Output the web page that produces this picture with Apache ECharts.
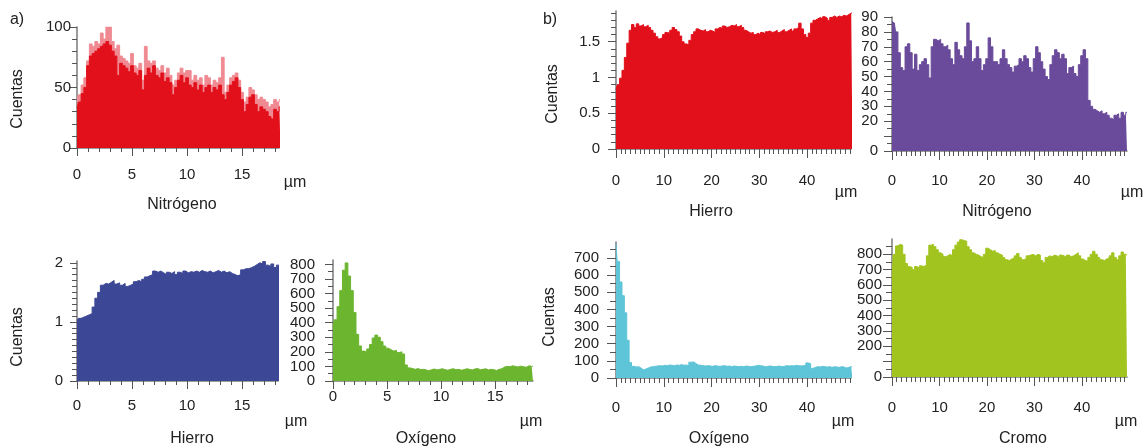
<!DOCTYPE html>
<html><head><meta charset="utf-8">
<script src="https://cdn.jsdelivr.net/npm/echarts@6/dist/echarts.min.js"></script>
<style>html,body{margin:0;padding:0;background:#fff}#c{width:1146px;height:448px}</style>
</head><body><div id="c"></div>
<script>
// ---- sampling steps (µm) ----
const stepA = 0.25;
const stepB = 0.5;

// ---- a) panels ----
const nitrogenoA_base = [33,38,45,50,68,76,78,80,82,84,86,88,85,80,76,60,70,68,66,63,68,62,60,64,48,60,66,62,68,60,58,62,55,58,54,44,50,56,60,54,58,52,50,54,48,52,46,50,52,46,50,48,52,44,40,46,52,55,58,50,40,30,36,42,44,36,30,34,32,30,26,24,32,30,34];
const nitrogenoA_peak = [40,44,52,58,72,86,84,88,86,95,90,100,100,88,82,85,76,74,72,70,78,68,66,70,56,84,72,70,72,66,64,68,62,66,60,52,56,62,66,62,64,64,56,60,56,58,52,60,58,52,56,54,58,75,46,52,58,60,62,56,46,38,42,50,48,44,40,42,40,38,34,36,40,38,40];
const hierroA = [1.02,1.06,1.08,1.10,1.12,1.14,1.25,1.40,1.50,1.62,1.65,1.64,1.67,1.70,1.64,1.66,1.62,1.65,1.60,1.62,1.64,1.68,1.70,1.68,1.72,1.76,1.78,1.80,1.86,1.84,1.86,1.83,1.80,1.84,1.82,1.85,1.80,1.84,1.82,1.86,1.83,1.85,1.84,1.86,1.84,1.87,1.85,1.84,1.86,1.83,1.85,1.87,1.84,1.86,1.83,1.85,1.82,1.80,1.78,1.80,1.88,1.90,1.90,1.92,1.94,1.97,2.00,1.98,2.02,1.96,1.94,1.98,1.92,1.96,1.94];
const oxigenoA = [380,420,510,620,760,810,720,620,470,320,240,205,200,220,250,295,315,300,270,240,225,215,205,210,195,200,185,110,90,85,80,85,78,80,76,70,78,82,76,80,84,78,74,80,84,78,80,74,78,84,80,76,82,86,78,80,84,76,80,78,72,80,84,96,100,98,104,100,96,102,98,94,104,100,102];

// ---- b) panels ----
const hierroB = [0.83,0.90,0.99,1.10,1.28,1.48,1.66,1.74,1.70,1.75,1.72,1.74,1.71,1.73,1.70,1.66,1.62,1.57,1.54,1.56,1.60,1.63,1.62,1.66,1.70,1.67,1.64,1.58,1.50,1.47,1.46,1.52,1.60,1.64,1.68,1.66,1.65,1.67,1.64,1.66,1.65,1.63,1.68,1.70,1.69,1.72,1.70,1.71,1.73,1.72,1.74,1.71,1.73,1.70,1.66,1.64,1.62,1.63,1.60,1.62,1.60,1.63,1.61,1.64,1.65,1.63,1.64,1.66,1.63,1.65,1.67,1.64,1.66,1.68,1.65,1.68,1.70,1.76,1.68,1.60,1.56,1.62,1.76,1.80,1.82,1.84,1.82,1.85,1.83,1.80,1.84,1.86,1.84,1.86,1.85,1.87,1.86,1.88,1.90,1.91];
const nitrogenoB = [87,86,80,66,56,54,70,72,66,55,65,54,58,60,62,58,49,70,75,74,75,72,70,71,68,62,58,73,68,64,62,70,86,74,60,62,70,62,54,58,62,76,70,60,60,58,62,68,62,58,56,53,57,58,62,60,64,62,56,53,62,70,66,60,55,50,48,58,64,68,66,62,65,62,52,56,57,52,50,58,64,68,62,34,30,28,27,26,27,25,26,24,22,21,24,25,22,26,24,26];
const oxigenoB = [780,680,560,480,380,220,90,68,64,66,58,48,52,58,64,66,68,70,72,70,74,72,76,74,72,76,74,78,74,76,72,92,94,84,76,74,72,70,72,70,68,72,70,68,70,72,68,70,66,70,68,66,68,66,70,68,66,68,70,74,72,70,66,68,70,68,66,68,70,66,68,72,70,72,70,74,72,70,72,74,88,84,56,62,66,64,68,66,64,66,62,66,64,62,66,64,58,62,66,64];
const cromoB = [630,800,855,865,860,800,740,720,715,700,720,710,725,720,730,790,860,865,850,830,810,800,785,790,800,790,830,860,880,895,890,885,850,830,810,800,795,785,780,800,840,830,820,825,810,800,795,780,765,760,770,775,790,805,780,765,770,790,795,800,790,800,795,760,745,780,790,785,795,790,780,795,790,780,795,785,790,800,810,790,770,760,755,780,800,820,800,780,765,760,770,775,790,810,780,765,790,815,800,795];

// ---- tick labels ----
const xLabelsA = [0,5,10,15];
const xLabelsB = [0,10,20,30,40];
const yLabels1 = [0,50,100];
const yLabels2 = [0,1,2];
const yLabels3 = [0,100,200,300,400,500,600,700,800];
const yLabels4 = [0,0.5,1,1.5];
const yLabels5 = [0,20,30,40,50,60,70,80,90];
const yLabels6 = [0,100,200,300,400,500,600,700];
const yLabels7 = [0,200,300,400,500,600,700,800];

// tick sets: [end, step, length]
const panels = [
  {grid:{left:77,top:27,width:202,height:121}, xMax:18.36, yMax:100, xLab:xLabelsA, yLab:yLabels1,
   xT:[[15,5,8],[18,1,4]], yT:[[100,50,7],[100,10,5]], xm:19.5, ym:6,
   series:[{d:nitrogenoA_peak,s:stepA,c:'#f08a92'},{d:nitrogenoA_base,s:stepA,c:'#e2101b'}]},
  {grid:{left:77,top:261,width:201,height:120}, xMax:18.27, yMax:2.03, xLab:xLabelsA, yLab:yLabels2,
   xT:[[15,5,8],[18,1,4]], yT:[[2,1,7],[2,0.1,5]], xm:17.5, ym:14,
   series:[{d:hierroA,s:stepA,c:'#3c4795'}]},
  {grid:{left:333,top:260,width:200,height:121}, xMax:18.5, yMax:830, xLab:xLabelsA, yLab:yLabels3,
   xT:[[15,5,8],[18,1,4]], yT:[[800,100,8],[800,50,5]], xm:8.5, ym:18,
   series:[{d:oxigenoA,s:stepA,c:'#6bb52f'}]},
  {grid:{left:616,top:11,width:235,height:138}, xMax:49.2, yMax:1.93, xLab:xLabelsB, yLab:yLabels4,
   xT:[[40,10,9],[49,1,5]], yT:[[1.5,0.5,8],[1.9,0.1,5]], xm:24.5, ym:16,
   series:[{d:hierroB,s:stepB,c:'#e2101b'}]},
  {grid:{left:892,top:17,width:235,height:134}, xMax:49.5, yMax:90, xLab:xLabelsB, yLab:yLabels5,
   xT:[[40,10,9],[49,1,5]], yT:[[90,10,8],[90,5,5]], xm:22.5, ym:14,
   series:[{d:nitrogenoB,s:stepB,c:'#6a4a9a'}]},
  {grid:{left:616,top:242,width:235,height:136}, xMax:49.2, yMax:793, xLab:xLabelsB, yLab:yLabels6,
   xT:[[40,10,9],[49,1,5]], yT:[[700,100,9],[750,50,6]], xm:22.5, ym:17,
   series:[{d:oxigenoB,s:stepB,c:'#5ec4d8'}]},
  {grid:{left:892,top:239,width:235,height:138}, xMax:49.5, yMax:900, xLab:xLabelsB, yLab:yLabels7,
   xT:[[40,10,9],[49,1,5]], yT:[[800,100,9],[850,50,6]], xm:23.5, ym:10,
   series:[{d:cromoB,s:stepB,c:'#a1c41f'}]}
];

const FONT = '"Liberation Sans", Arial, Helvetica, sans-serif';
const TXT = '#222';
const AXC = '#7a7a7a';
const TKC = '#555';
const grids = [], xAxes = [], yAxes = [], series = [];

function yLabelAxis(g, p, values, showLine) {
  return {type:'value', gridIndex:g, position:'left', offset:0, min:0, max:p.yMax,
    axisLine:{show:showLine, onZero:false, lineStyle:{color:AXC, width:1.5}},
    axisTick:{show:false},
    axisLabel:{show:true, customValues:values, showMinLabel:true, showMaxLabel:true, hideOverlap:false, margin:p.ym, fontSize:15, fontFamily:FONT, color:TXT},
    splitLine:{show:false}};
}

panels.forEach((p) => {
  const g = grids.length;
  const G = p.grid;
  grids.push({left:G.left, top:G.top, width:G.width, height:G.height});
  xAxes.push({type:'value', gridIndex:g, position:'bottom', min:0, max:p.xMax,
    axisLine:{show:true, onZero:false, lineStyle:{color:AXC, width:1.5}},
    axisTick:{show:false},
    axisLabel:{show:true, customValues:p.xLab, showMinLabel:true, showMaxLabel:true, hideOverlap:false, margin:p.xm, fontSize:15, fontFamily:FONT, color:TXT},
    splitLine:{show:false}});
  // labels split over two axes so crowded labels are never auto-hidden
  const evenLab = p.yLab.filter((v, k) => k % 2 === 0);
  const oddLab = p.yLab.filter((v, k) => k % 2 === 1);
  yAxes.push(yLabelAxis(g, p, evenLab, true));
  const xi = xAxes.length - 1, yi = yAxes.length - 1;
  if (oddLab.length) yAxes.push(yLabelAxis(g, p, oddLab, false));
  p.series.forEach((s, k) => {
    series.push({type:'line', xAxisIndex:xi, yAxisIndex:yi, step:'middle', symbol:'none', silent:true,
      data:s.d.map((v, j) => [j * s.s, v]), z:2 + k,
      lineStyle:{width:1, color:s.c}, areaStyle:{color:s.c, opacity:1}});
  });
  const pxX = G.width / p.xMax, pxY = G.height / p.yMax;
  p.xT.forEach(([end, step, len]) => {
    const gi = grids.length;
    grids.push({left:G.left, top:G.top, height:G.height, width:end * pxX});
    xAxes.push({type:'value', gridIndex:gi, position:'bottom', min:0, max:end, interval:step,
      axisLine:{show:false, onZero:false}, axisLabel:{show:false}, splitLine:{show:false},
      axisTick:{show:true, length:len, lineStyle:{color:TKC, width:1}}});
    yAxes.push({type:'value', gridIndex:gi, show:false, min:0, max:1});
  });
  p.yT.forEach(([end, step, len]) => {
    const gi = grids.length;
    const h = end * pxY;
    grids.push({left:G.left, top:G.top + G.height - h, height:h, width:G.width});
    yAxes.push({type:'value', gridIndex:gi, position:'left', min:0, max:end, interval:step,
      axisLine:{show:false, onZero:false}, axisLabel:{show:false}, splitLine:{show:false},
      axisTick:{show:true, length:len, lineStyle:{color:TKC, width:1}}});
    xAxes.push({type:'value', gridIndex:gi, show:false, min:0, max:1});
  });
});

function t(text, x, y, rot) {
  return {type:'text', x:x, y:y, rotation:rot || 0, silent:true, z:10,
    style:{text:text, font:'16px ' + FONT, fill:TXT, align:'center', verticalAlign:'middle', textAlign:'center', textVerticalAlign:'middle'}};
}
const R = Math.PI / 2;
const graphics = [
  t('a)', 17, 20), t('b)', 550, 20),
  t('Cuentas', 18, 99, R), t('Cuentas', 18, 337, R), t('Cuentas', 553, 94, R), t('Cuentas', 550, 317, R),
  t('Nitrógeno', 182, 205), t('Hierro', 192, 439), t('Oxígeno', 426, 439),
  t('Hierro', 711, 212), t('Nitrógeno', 997, 212), t('Oxígeno', 719, 439), t('Cromo', 1023, 439),
  t('µm', 295, 183), t('µm', 296, 422), t('µm', 531, 422),
  t('µm', 846, 193), t('µm', 1132, 193), t('µm', 843, 422), t('µm', 1126, 422)
];

const chart = echarts.init(document.getElementById('c'), null, {renderer:'canvas'});
chart.setOption({animation:false, backgroundColor:'#fff', grid:grids, xAxis:xAxes, yAxis:yAxes, series:series, graphic:graphics});
</script></body></html>
